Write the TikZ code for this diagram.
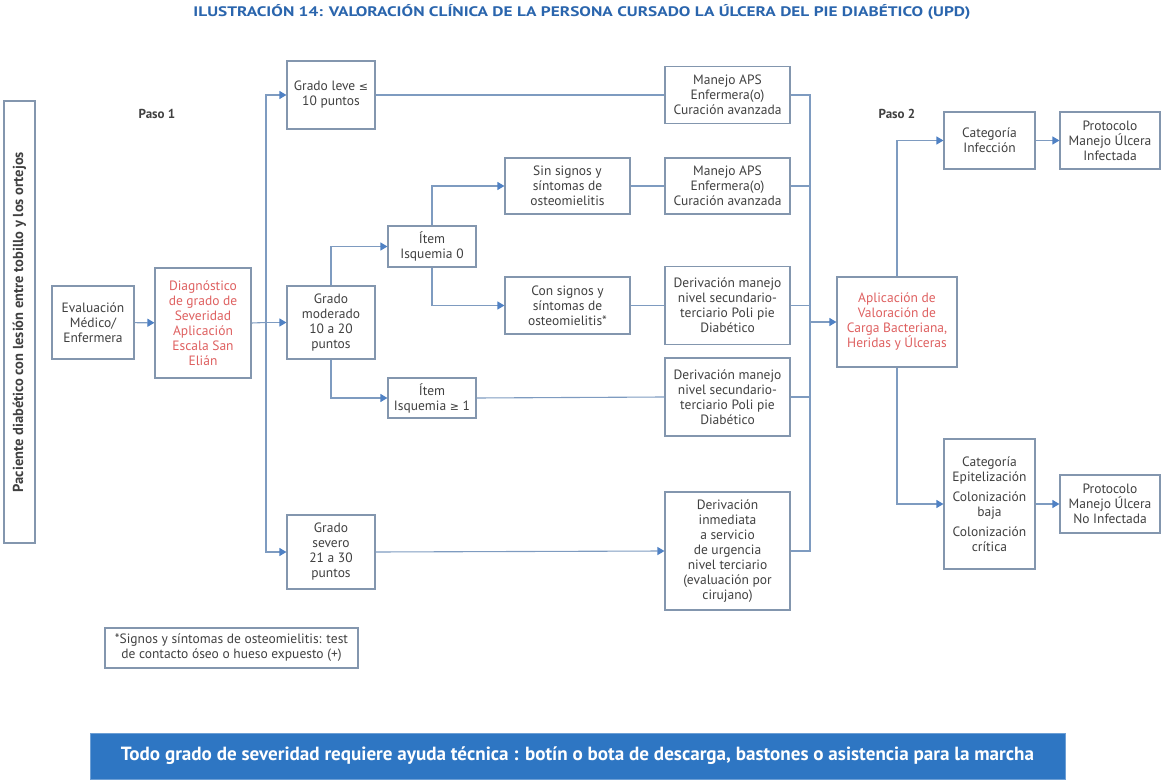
\documentclass[tikz,border=0pt]{standalone}
\usepackage{fontspec}
\setmainfont{PT Sans}
\newfontfamily\symf{DejaVu Sans}
\usetikzlibrary{arrows.meta}
\definecolor{linec}{HTML}{7E9BC0}
\definecolor{boxc}{HTML}{8396AE}
\definecolor{tipc}{HTML}{4F81C4}
\definecolor{txtc}{HTML}{404040}
\definecolor{redc}{HTML}{DE6060}
\definecolor{titc}{HTML}{2A65AD}
\definecolor{banc}{HTML}{2E76C3}
\begin{document}
\begin{tikzpicture}[x=1pt,y=-1pt,
  every node/.style={font=\fontsize{13.5}{15}\selectfont, text=txtc, align=center, inner sep=1pt},
  bx/.style={draw=boxc, line width=1.1pt, minimum width=#1},
  cn/.style={draw=linec, line width=1.1pt},
  arr/.style={cn, -{Triangle[length=7pt,width=8pt,fill=tipc,color=tipc]}},
  lbl/.style={font=\fontsize{13}{15}\selectfont\bfseries}]
\useasboundingbox (0,0) rectangle (1175,783);
% title
\node (title) at (582,12) {\color{titc}\resizebox{777pt}{12pt}{\bfseries ILUSTRACIÓN 14: VALORACIÓN CLÍNICA DE LA PERSONA CURSADO LA ÚLCERA DEL PIE DIABÉTICO (UPD)}};
% left vertical box
\node[draw=boxc, line width=1.1pt, rotate=90, minimum width=442pt, minimum height=31pt] (pac) at (19.5,322) {\fontsize{14.5}{15}\selectfont\bfseries Paciente diabético con lesión entre tobillo y los ortejos};
\node[lbl] (paso1) at (157,114) {Paso 1};
\node[lbl] (paso2) at (897,114) {Paso 2};
% column 1
\node[bx=82pt, minimum height=73pt] (eval) at (93,322.5) {Evaluación\\Médico/\\Enfermera};
\node[bx=96pt, minimum height=110pt, text=redc] (diag) at (203,323) {Diagnóstico\\de grado de\\Severidad\\Aplicación\\Escala San\\Elián};
% grades
\node[bx=88pt, minimum height=68pt] (leve) at (331,95) {Grado leve {\symf\fontsize{11}{15}\selectfont ≤}\\10 puntos};
\node[bx=88pt, minimum height=73pt] (mod) at (331,322.5) {Grado\\moderado\\10 a 20\\puntos};
\node[bx=88pt, minimum height=74pt] (sev) at (331,552) {Grado\\severo\\21 a 30\\puntos};
% items
\node[bx=88pt, minimum height=41pt] (it0) at (432,246.5) {Ítem\\Isquemia 0};
\node[bx=88pt, minimum height=40pt] (it1) at (432,398) {Ítem\\Isquemia {\symf\fontsize{11}{15}\selectfont ≥} 1};
\node[bx=125pt, minimum height=56pt] (sin) at (567.5,186) {Sin signos y\\síntomas de\\osteomielitis};
\node[bx=125pt, minimum height=57pt] (con) at (567.5,305.5) {Con signos y\\síntomas de\\osteomielitis*};
% outcomes
\node[bx=125pt, minimum height=57pt] (aps1) at (727.5,95) {Manejo APS\\Enfermera(o)\\Curación avanzada};
\node[bx=125pt, minimum height=56pt] (aps2) at (727.5,186) {Manejo APS\\Enfermera(o)\\Curación avanzada};
\node[bx=125pt, minimum height=78pt] (der1) at (727.5,305.5) {Derivación manejo\\nivel secundario-\\terciario Poli pie\\Diabético};
\node[bx=125pt, minimum height=78pt] (der2) at (727.5,397) {Derivación manejo\\nivel secundario-\\terciario Poli pie\\Diabético};
\node[bx=125pt, minimum height=118pt] (derI) at (727.5,551) {Derivación\\inmediata\\a servicio\\de urgencia\\nivel terciario\\(evaluación por\\cirujano)};
% step 2
\node[bx=120pt, minimum height=90pt, text=redc] (apl) at (897,322) {Aplicación de\\Valoración de\\Carga Bacteriana,\\Heridas y Úlceras};
\node[bx=91pt, minimum height=57pt] (catI) at (989.5,140.5) {Categoría\\Infección};
\node[bx=100pt, minimum height=57pt] (protI) at (1110,140.5) {Protocolo\\Manejo Úlcera\\Infectada};
\node[bx=91pt, minimum height=130pt] (catE) at (989.5,504) {Categoría\\Epitelización\\[5pt]Colonización\\baja\\[5pt]Colonización\\crítica};
\node[bx=100pt, minimum height=58pt] (protN) at (1110,504) {Protocolo\\Manejo Úlcera\\No Infectada};
% footnote
\node[bx=253pt, minimum height=40pt] (foot) at (231.5,648) {*Signos y síntomas de osteomielitis: test\\de contacto óseo o hueso expuesto (+)};
% banner
\node[draw=banc!70, fill=banc, line width=1pt, minimum width=975pt, minimum height=46pt, text=white] (ban) at (577.5,756) {\resizebox{913pt}{!}{\fontsize{15.5}{18}\selectfont\bfseries Todo grado de severidad requiere ayuda técnica : botín o bota de descarga, bastones o asistencia para la marcha}};
% connectors
\coordinate (t0) at (266,322.5);
\coordinate (c0) at (810,322);
\draw[arr] (eval) -- (diag);
\draw[cn] (diag.east) -- (t0);
\draw[arr] (t0) -- (mod.west);
\draw[arr] (t0) |- (leve.west);
\draw[arr] (t0) |- (sev.west);
\draw[arr] (mod.north) |- (it0.west);
\draw[arr] (mod.south) |- (it1.west);
\draw[arr] (it0.north) |- (sin.west);
\draw[arr] (it0.south) |- (con.west);
\draw[cn] (leve.east) -- (aps1.west);
\draw[cn] (sin.east) -- (aps2.west);
\draw[cn] (con.east) -- (der1.west);
\draw[cn] (it1.east) -- (der2.west);
\draw[arr] (sev.east) -- (derI.west);
\draw[cn] (aps1.east) -| (c0);
\draw[cn] (derI.east) -| (c0);
\draw[cn] (aps2.east) -- (aps2.east -| c0);
\draw[cn] (der1.east) -- (der1.east -| c0);
\draw[cn] (der2.east) -- (der2.east -| c0);
\draw[arr] (c0) -- (apl.west);
\draw[arr] (apl.north) |- (catI.west);
\draw[arr] (apl.south) |- (catE.west);
\draw[arr] (catI) -- (protI);
\draw[arr] (catE) -- (protN);
\end{tikzpicture}
\end{document}
